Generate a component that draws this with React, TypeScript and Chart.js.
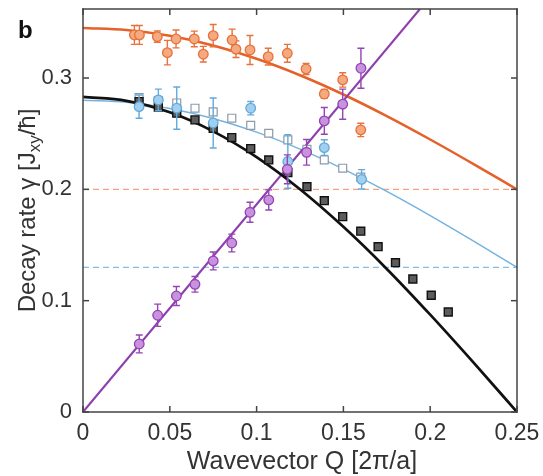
import React, { useEffect, useRef } from 'react';
import { Chart, registerables } from 'chart.js';

Chart.register(...registerables);

const FONT = '"Liberation Sans", Arial, Helvetica, sans-serif';

// ---- tick labels ----
const xTicks = [0, 0.05, 0.1, 0.15, 0.2, 0.25];
const yTicks = [0, 0.1, 0.2, 0.3];
const xRange = [0, 0.25];
const yRange = [0, 0.362];

// ---- fitted curves ----
const qFit = [0, 0.025, 0.05, 0.075, 0.1, 0.125, 0.15, 0.175, 0.2, 0.225, 0.25];
const fitBlack = [0.283, 0.2795, 0.2692, 0.2521, 0.229, 0.2001, 0.1663, 0.1285, 0.0874, 0.0443, 0];
const fitOrange = [0.345, 0.3432, 0.3379, 0.3292, 0.3173, 0.3025, 0.2852, 0.2658, 0.2448, 0.2227, 0.2];
const fitBlue = [0.28, 0.2782, 0.2727, 0.2637, 0.2514, 0.2361, 0.2182, 0.1981, 0.1764, 0.1535, 0.13];
const qLinear = [0, 0.1941];
const fitPurple = [0, 0.362];
const qDash = [0, 0.25];
const dashOrange = [0.2, 0.2];
const dashBlue = [0.13, 0.13];

// ---- black squares ----
const qBlack = [0.0323, 0.0434, 0.054, 0.0645, 0.075, 0.0857, 0.0966, 0.107, 0.118, 0.129, 0.139, 0.1496, 0.16, 0.17, 0.18, 0.19, 0.2006, 0.2104];
const gBlack = [0.2788, 0.2738, 0.2684, 0.2624, 0.2549, 0.2465, 0.2366, 0.2264, 0.215, 0.2024, 0.1898, 0.1755, 0.1624, 0.1485, 0.1341, 0.1195, 0.1049, 0.0898];

// ---- open (light blue) squares ----
const qOpen = [0.0323, 0.0434, 0.054, 0.0645, 0.075, 0.0857, 0.0966, 0.107, 0.118, 0.129, 0.139, 0.1496, 0.16];
const gOpen = [0.2825, 0.2797, 0.2776, 0.2729, 0.2696, 0.2639, 0.2575, 0.2504, 0.2444, 0.236, 0.2264, 0.219, 0.211];

// ---- blue circles ----
const qBlueC = [0.0323, 0.0434, 0.054, 0.075, 0.0966, 0.118, 0.139, 0.1605];
const gBlueC = [0.2743, 0.2803, 0.273, 0.2596, 0.2729, 0.225, 0.2375, 0.209];
const eBlueC = [0.0105, 0.0097, 0.019, 0.0225, 0.006, 0.024, 0.007, 0.0087];

// ---- orange circles ----
const qOrange = [0.0296, 0.0325, 0.0428, 0.0486, 0.0536, 0.0641, 0.0693, 0.075, 0.0859, 0.0881, 0.0962, 0.1067, 0.1177, 0.1285, 0.139, 0.1496, 0.16];
const gOrange = [0.3387, 0.3387, 0.3372, 0.3228, 0.3351, 0.3351, 0.3214, 0.3381, 0.3342, 0.3259, 0.3252, 0.3192, 0.3222, 0.3082, 0.2857, 0.2983, 0.2534];
const eOrange = [0.0085, 0.0085, 0.005, 0.011, 0.008, 0.007, 0.007, 0.01, 0.0097, 0.0075, 0.013, 0.0075, 0.008, 0.005, 0.004, 0.0065, 0.006];

// ---- purple circles ----
const qPurple = [0.0324, 0.043, 0.0538, 0.0645, 0.075, 0.0857, 0.0962, 0.107, 0.1177, 0.1288, 0.139, 0.1496, 0.1601];
const gPurple = [0.0611, 0.0869, 0.1042, 0.1147, 0.1357, 0.1518, 0.1794, 0.1905, 0.218, 0.2333, 0.2615, 0.2765, 0.3088];
const ePurple = [0.008, 0.01, 0.0085, 0.007, 0.008, 0.008, 0.009, 0.009, 0.013, 0.0115, 0.012, 0.0135, 0.018];

const pts = (xs: number[], ys: number[]) => xs.map((x, i) => ({ x, y: ys[i] }));
const fmt = (v: any) => String(+Number(v).toFixed(2));

const errorBarPlugin = {
  id: 'errorBars',
  beforeDatasetDraw(chart: any, args: any) {
    const ds = chart.data.datasets[args.index];
    if (!ds.errors) return;
    const { ctx, chartArea } = chart;
    const x = chart.scales.x;
    const y = chart.scales.y;
    ctx.save();
    ctx.beginPath();
    ctx.rect(chartArea.left, chartArea.top, chartArea.width, chartArea.height);
    ctx.clip();
    ctx.strokeStyle = ds.errorColor;
    ctx.lineWidth = 1.4;
    ds.data.forEach((p: any, i: number) => {
      const e = ds.errors[i];
      const px = x.getPixelForValue(p.x);
      const top = y.getPixelForValue(p.y + e);
      const bot = y.getPixelForValue(p.y - e);
      ctx.beginPath();
      ctx.moveTo(px, top);
      ctx.lineTo(px, bot);
      ctx.moveTo(px - 3.5, top);
      ctx.lineTo(px + 3.5, top);
      ctx.moveTo(px - 3.5, bot);
      ctx.lineTo(px + 3.5, bot);
      ctx.stroke();
    });
    ctx.restore();
  },
};

const decorPlugin = {
  id: 'decor',
  afterDraw(chart: any) {
    const { ctx, chartArea: a } = chart;
    const x = chart.scales.x;
    const y = chart.scales.y;
    const tl = 6;
    const w = 1.5;
    const L = Math.round(a.left);
    const R = Math.round(a.right);
    const T = Math.round(a.top);
    const B = Math.round(a.bottom);
    // frame with inward ticks on all four sides
    ctx.save();
    ctx.fillStyle = '#444';
    ctx.fillRect(L - w / 2, T - w / 2, R - L + w, w);
    ctx.fillRect(L - w / 2, B - w / 2, R - L + w, w);
    ctx.fillRect(L - w / 2, T - w / 2, w, B - T + w);
    ctx.fillRect(R - w / 2, T - w / 2, w, B - T + w);
    xTicks.forEach((v) => {
      const px = x.getPixelForValue(v);
      ctx.fillRect(px - w / 2, B - tl, w, tl);
      ctx.fillRect(px - w / 2, T, w, tl);
    });
    yTicks.forEach((v) => {
      const py = y.getPixelForValue(v);
      ctx.fillRect(L, py - w / 2, tl, w);
      ctx.fillRect(R - tl, py - w / 2, tl, w);
    });
    ctx.restore();

    ctx.save();
    ctx.fillStyle = '#333';
    // x title
    ctx.font = `25px ${FONT}`;
    ctx.textAlign = 'center';
    ctx.textBaseline = 'middle';
    ctx.fillText('Wavevector Q [2π/a]', (a.left + a.right) / 2 + 2, 462);
    // y title with subscript
    const big = `24px ${FONT}`;
    const small = `17px ${FONT}`;
    const parts: [string, string, number][] = [
      ['Decay rate γ [J', big, 0],
      ['xy', small, 5],
      ['/ħ]', big, 0],
    ];
    let total = 0;
    parts.forEach(([t, f]) => {
      ctx.font = f;
      total += ctx.measureText(t).width;
    });
    ctx.translate(35, (a.top + a.bottom) / 2);
    ctx.rotate(-Math.PI / 2);
    ctx.textAlign = 'left';
    ctx.textBaseline = 'alphabetic';
    let cx = -total / 2;
    parts.forEach(([t, f, dy]) => {
      ctx.font = f;
      ctx.fillText(t, cx, dy);
      cx += ctx.measureText(t).width;
    });
    ctx.restore();
    // panel letter
    ctx.save();
    ctx.fillStyle = '#111';
    ctx.font = `bold 24px ${FONT}`;
    ctx.textAlign = 'left';
    ctx.textBaseline = 'alphabetic';
    ctx.fillText('b', 18, 38);
    ctx.restore();
  },
};

export default function App() {
  const ref = useRef<HTMLCanvasElement | null>(null);
  useEffect(() => {
    if (!ref.current) return;
    const circle = (fill: string, edge: string) => ({
      showLine: false,
      pointStyle: 'circle',
      pointRadius: 4.8,
      pointBorderWidth: 1.3,
      pointBackgroundColor: fill,
      pointBorderColor: edge,
      errorColor: edge,
    });
    const chart = new Chart(ref.current, {
      type: 'scatter',
      data: {
        datasets: [
          { data: pts(qPurple, gPurple), errors: ePurple, ...circle('#C892DE', '#9444B4') } as any,
          { data: pts(qOrange, gOrange), errors: eOrange, ...circle('#F5A980', '#E8723A') } as any,
          { data: pts(qBlueC, gBlueC), errors: eBlueC, ...circle('#A3CFEF', '#62A9DC') } as any,
          {
            data: pts(qBlack, gBlack), showLine: false, pointStyle: 'rect', pointRadius: 5.6,
            pointBorderWidth: 1.4, pointBackgroundColor: '#5c5c5c', pointBorderColor: '#111',
          },
          {
            data: pts(qOpen, gOpen), showLine: false, pointStyle: 'rect', pointRadius: 5.6,
            pointBorderWidth: 1.2, pointBackgroundColor: '#ffffff', pointBorderColor: '#8d9aa8',
          },
          { data: pts(qFit, fitBlack), showLine: true, borderColor: '#111', borderWidth: 2.7, pointRadius: 0, cubicInterpolationMode: 'monotone' },
          { data: pts(qLinear, fitPurple), showLine: true, borderColor: '#8E3FAE', borderWidth: 2.1, pointRadius: 0 },
          { data: pts(qFit, fitOrange), showLine: true, borderColor: '#E4622A', borderWidth: 2.5, pointRadius: 0, cubicInterpolationMode: 'monotone' },
          { data: pts(qFit, fitBlue), showLine: true, borderColor: '#74B3E0', borderWidth: 1.5, pointRadius: 0, cubicInterpolationMode: 'monotone' },
          { data: pts(qDash, dashOrange), showLine: true, borderColor: '#F2A283', borderWidth: 1.3, borderDash: [6, 4], pointRadius: 0 },
          { data: pts(qDash, dashBlue), showLine: true, borderColor: '#86BBE6', borderWidth: 1.3, borderDash: [6, 4], pointRadius: 0 },
        ] as any,
      },
      options: {
        animation: false,
        responsive: true,
        maintainAspectRatio: false,
        events: [],
        layout: { padding: { left: 0, top: 9, right: 26, bottom: 0 } },
        plugins: { legend: { display: false }, tooltip: { enabled: false } },
        scales: {
          x: {
            type: 'linear',
            min: xRange[0],
            max: xRange[1],
            afterBuildTicks: (s: any) => { s.ticks = xTicks.map((v) => ({ value: v })); },
            afterFit: (s: any) => { s.height = 64; s.paddingLeft = 0; s.paddingRight = 0; },
            grid: { display: false, drawTicks: false },
            border: { display: false },
            ticks: {
              padding: 8,
              maxRotation: 0,
              autoSkip: false,
              color: '#333',
              font: { family: FONT, size: 23 },
              callback: fmt,
            },
          },
          y: {
            type: 'linear',
            min: yRange[0],
            max: yRange[1],
            afterBuildTicks: (s: any) => { s.ticks = yTicks.map((v) => ({ value: v })); },
            afterFit: (s: any) => { s.width = 83; s.paddingTop = 0; s.paddingBottom = 0; },
            grid: { display: false, drawTicks: false },
            border: { display: false },
            ticks: {
              padding: 11,
              autoSkip: false,
              color: '#333',
              font: { family: FONT, size: 22 },
              callback: fmt,
            },
          },
        },
      } as any,
      plugins: [errorBarPlugin, decorPlugin],
    });
    return () => chart.destroy();
  }, []);
  return (
    <div style={{ position: 'absolute', left: 0, top: 0, width: 543, height: 476, background: '#fff' }}>
      <canvas ref={ref} />
    </div>
  );
}
